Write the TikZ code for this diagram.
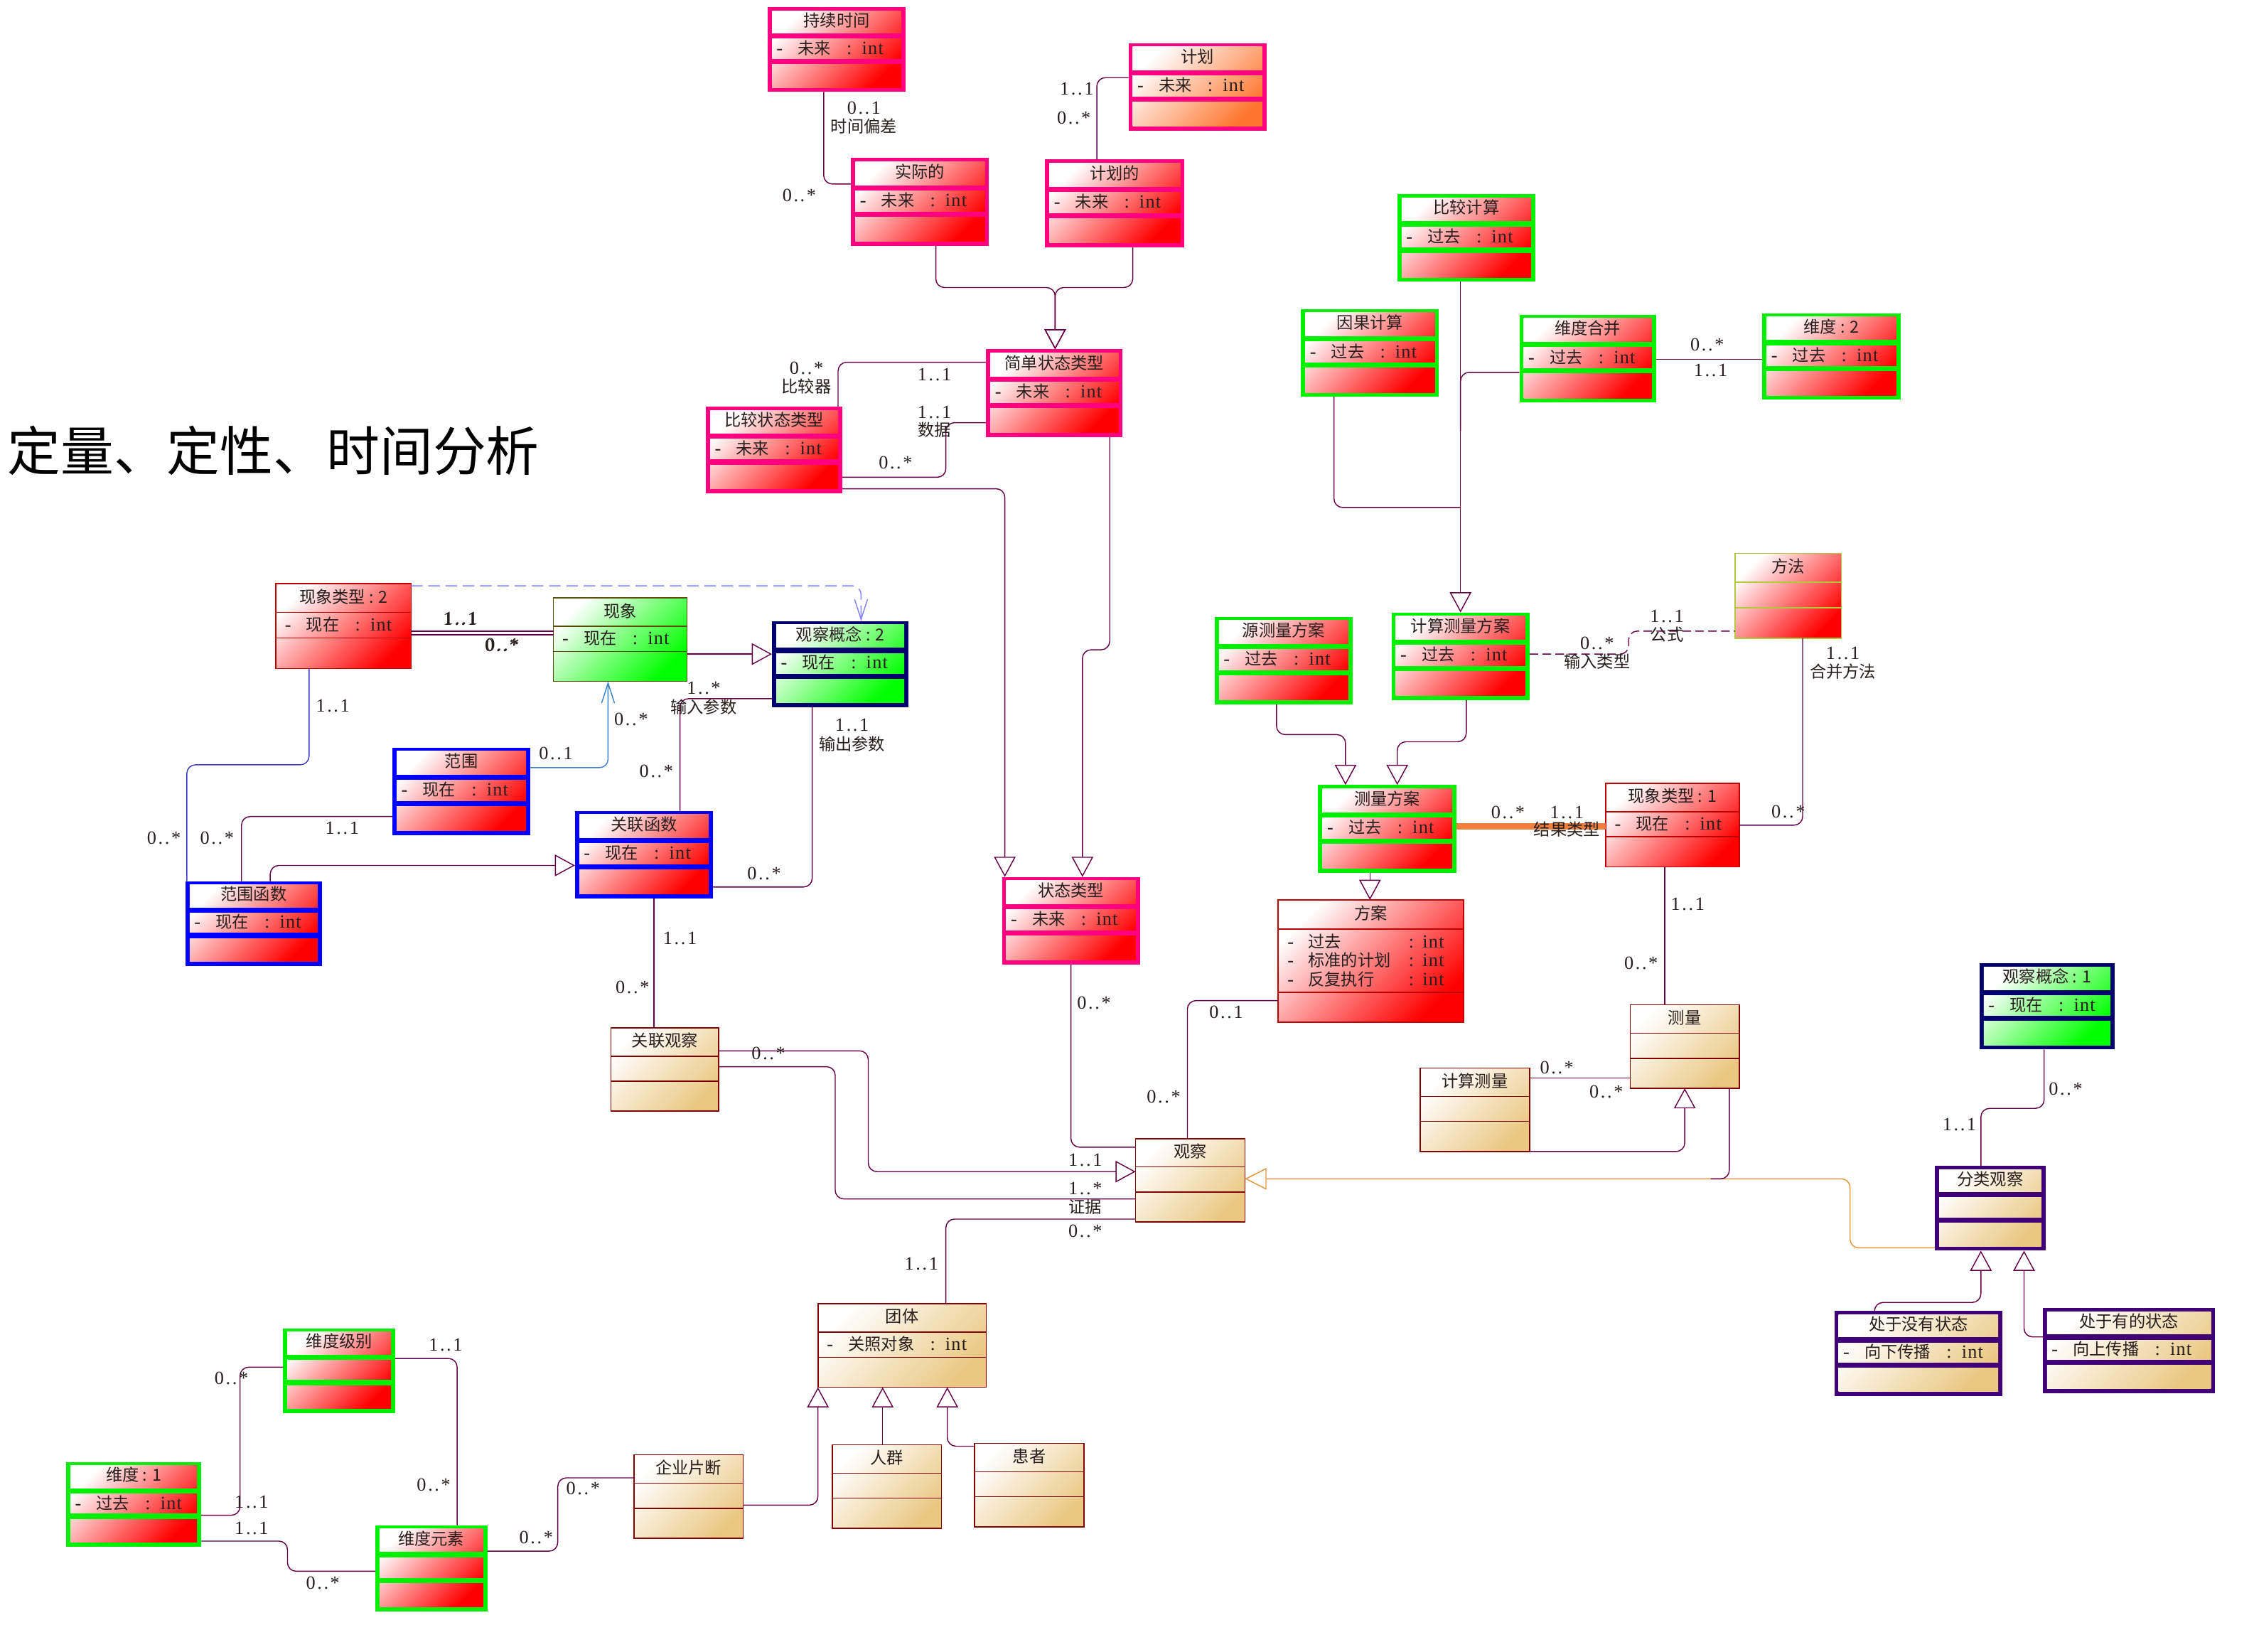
\documentclass[tikz,border=0pt]{standalone}
\usepackage{fontspec}
\setmainfont{Liberation Serif}
\newfontfamily\zh{Noto Sans CJK SC}
\usetikzlibrary{arrows.meta,calc}
\definecolor{lnc}{RGB}{100,0,70}
\definecolor{pinkb}{RGB}{255,0,128}
\definecolor{grnb}{RGB}{0,240,0}
\definecolor{bluB}{RGB}{0,0,255}
\definecolor{navyB}{RGB}{0,0,110}
\definecolor{purpB}{RGB}{64,0,120}
\definecolor{tanF}{RGB}{234,200,130}
\definecolor{marB}{RGB}{128,0,0}
\definecolor{orL}{RGB}{240,128,64}
\definecolor{orG}{RGB}{225,150,60}
\definecolor{planF}{RGB}{255,120,50}
\definecolor{grnF}{RGB}{0,255,0}
\definecolor{oliveB}{RGB}{90,80,0}
\definecolor{methB}{RGB}{180,200,60}
\definecolor{dashB}{RGB}{130,130,255}
\definecolor{stB}{RGB}{60,130,200}
\definecolor{dkB}{RGB}{60,60,200}
\definecolor{redB}{RGB}{190,0,0}
\definecolor{txt}{RGB}{40,30,30}
\tikzset{
  conn/.style={draw=lnc,line width=0.7pt,rounded corners=6pt},
  gen/.style={-{Triangle[open,length=14pt,width=15pt]}},
  vee/.style={-{Straight Barb[length=14pt,width=9pt]}},
  boxn/.style={inner sep=0pt,outer sep=0pt,draw=none},
  ttl/.style={inner sep=0pt,text=txt,font=\zh\fontsize{11.5}{13}\selectfont},
  atrs/.style={inner sep=0pt,anchor=west,text=txt,font=\fontsize{13}{14}\selectfont},
  lab/.style={inner sep=0pt,text=txt,font=\fontsize{13}{14}\selectfont},
  zlab/.style={inner sep=0pt,text=txt,font=\zh\fontsize{11.5}{13}\selectfont},
}
\newcommand{\mul}[2]{#1\kern1.3pt.\kern1.3pt.\kern1.3pt#2}
\newcommand{\atr}[1]{-\hspace{10.5pt}{\zh\fontsize{11.5}{13}\selectfont #1}\hspace{11pt}:\hspace{7pt}i\kern0.6pt n\kern0.6pt t}
\newcommand{\atrw}[1]{-\hspace{10pt}\makebox[70pt][l]{\zh\fontsize{11.5}{13}\selectfont #1}:\hspace{6pt}i\kern0.6pt n\kern0.6pt t}
\newcommand{\thickbox}[9]{%
  \pgfmathsetmacro\myA{#5+0.34*(#7-#5)}%
  \pgfmathsetmacro\myB{#5+0.64*(#7-#5)}%
  \fill[#2] (#4,#5) rectangle (#6,#7);
  \shade[top color=white,bottom color=#3,shading angle=45] ({#4+3},{#5+2.5}) rectangle ({#6-3},{#7-3});
  \fill[#2] (#4,{\myA-1.8}) rectangle (#6,{\myA+1.8});
  \fill[#2] (#4,{\myB-1.8}) rectangle (#6,{\myB+1.8});
  \node[boxn,minimum width={(#6-#4)*1pt},minimum height={(#7-#5)*1pt}] (#1) at ({(#4+#6)/2},{(#5+#7)/2}) {};
  \node[ttl] (#1-t) at ({(#4+#6)/2},{(#5+\myA)/2-1}) {#8};
  \node[atrs] (#1-a) at ({#4+6},{(\myA+\myB)/2-0.5}) {#9};
}
\newcommand{\thinbox}[9]{%
  \pgfmathsetmacro\myA{#5+0.34*(#7-#5)}%
  \pgfmathsetmacro\myB{#5+0.64*(#7-#5)}%
  \shade[top color=white,bottom color=#3,shading angle=45] (#4,#5) rectangle (#6,#7);
  \draw[#2,line width=0.8pt] (#4,\myA) -- (#6,\myA) (#4,\myB) -- (#6,\myB);
  \draw[#2,line width=0.8pt] (#4,#5) rectangle (#6,#7);
  \node[boxn,minimum width={(#6-#4)*1pt},minimum height={(#7-#5)*1pt}] (#1) at ({(#4+#6)/2},{(#5+#7)/2}) {};
  \node[ttl] (#1-t) at ({(#4+#6)/2},{(#5+\myA)/2-1}) {#8};
  \node[atrs] (#1-a) at ({#4+6},{(\myA+\myB)/2-0.5}) {#9};
}
\begin{document}
\begin{tikzpicture}[x=1pt,y=-1pt]
\useasboundingbox (0,0) rectangle (1568,1149);
\fill[white] (0,0) rectangle (1568,1149);

% title
\node[inner sep=0pt,anchor=west,font=\zh\fontsize{37}{40}\selectfont] (title) at (5,313.5) {定量、定性、时间分析};

% ---------- boxes ----------
\thickbox{dur}{pinkb}{red}{534}{5}{630}{64}{持续时间}{\atr{未来}}
\thickbox{plan}{pinkb}{planF}{785}{30}{881}{91}{计划}{\atr{未来}}
\thickbox{act}{pinkb}{red}{592}{110}{688}{171}{实际的}{\atr{未来}}
\thickbox{pld}{pinkb}{red}{727}{111}{824}{172}{计划的}{\atr{未来}}
\thickbox{simp}{pinkb}{red}{686}{243}{781}{304}{简单状态类型}{\atr{未来}}
\thickbox{cmp}{pinkb}{red}{491}{283}{586}{343}{比较状态类型}{\atr{未来}}
\thickbox{st}{pinkb}{red}{697}{610}{793}{671}{状态类型}{\atr{未来}}
\thinbox{pt2}{redB}{red}{192}{406}{286}{465}{现象类型 : 2}{\atr{现在}}
\thinbox{ph}{oliveB}{grnF}{385}{416}{478}{474}{现象}{\atr{现在}}
\thickbox{oc2}{navyB}{grnF}{537}{432}{632}{492}{观察概念 : 2}{\atr{现在}}
\thickbox{rng}{bluB}{red}{273}{520}{369}{581}{范围}{\atr{现在}}
\thickbox{rf}{bluB}{red}{400}{564}{496}{625}{关联函数}{\atr{现在}}
\thickbox{rgf}{bluB}{red}{129}{613}{224}{672}{范围函数}{\atr{现在}}
\thinbox{ro}{marB}{tanF}{425}{715}{500}{773}{关联观察}{}
\thinbox{obs}{marB}{tanF}{790}{792}{866}{850}{观察}{}
\thinbox{grp}{marB}{tanF}{569}{907}{686}{965}{团体}{\atr{关照对象}}
\thinbox{crowd}{marB}{tanF}{579}{1005}{655}{1063}{人群}{}
\thinbox{pat}{marB}{tanF}{678}{1004}{754}{1062}{患者}{}
\thinbox{ent}{marB}{tanF}{441}{1012}{517}{1070}{企业片断}{}
\thickbox{dlv}{grnb}{red}{197}{924}{275}{983}{维度级别}{}
\thickbox{d1}{grnb}{red}{46}{1017}{140}{1076}{维度 : 1}{\atr{过去}}
\thickbox{del}{grnb}{red}{261}{1061}{339}{1121}{维度元素}{}
\thickbox{cc}{grnb}{red}{972}{135}{1068}{196}{比较计算}{\atr{过去}}
\thickbox{cause}{grnb}{red}{905}{215}{1001}{276}{因果计算}{\atr{过去}}
\thickbox{dm}{grnb}{red}{1057}{219}{1152}{280}{维度合并}{\atr{过去}}
\thickbox{d2}{grnb}{red}{1226}{218}{1322}{278}{维度 : 2}{\atr{过去}}
\thinbox{meth}{methB}{red}{1207}{385}{1281}{444}{方法}{}
\thickbox{smp}{grnb}{red}{845}{429}{941}{490}{源测量方案}{\atr{过去}}
\thickbox{cmp2}{grnb}{red}{968}{426}{1064}{487}{计算测量方案}{\atr{过去}}
\thickbox{mp}{grnb}{red}{917}{546}{1013}{607}{测量方案}{\atr{过去}}
\thinbox{pt1}{redB}{red}{1117}{545}{1210}{603}{现象类型 : 1}{\atr{现在}}
\thinbox{meas}{marB}{tanF}{1134}{699}{1210}{757}{测量}{}
\thinbox{cm}{marB}{tanF}{988}{743}{1064}{801}{计算测量}{}
\thickbox{oc1}{navyB}{grnF}{1377}{670}{1471}{730}{观察概念 : 1}{\atr{现在}}
\thickbox{co}{purpB}{tanF}{1346}{811}{1423}{870}{分类观察}{}
\thickbox{dn}{purpB}{tanF}{1276}{912}{1393}{971}{处于没有状态}{\atr{向下传播}}
\thickbox{upb}{purpB}{tanF}{1421}{910}{1541}{969}{处于有的状态}{\atr{向上传播}}

% 方案 (three attributes)
\shade[top color=white,bottom color=red,shading angle=45] (889,626) rectangle (1018,711);
\draw[redB,line width=0.8pt] (889,646.4) -- (1018,646.4) (889,690.4) -- (1018,690.4);
\draw[redB,line width=0.8pt] (889,626) rectangle (1018,711);
\node[boxn,minimum width=129pt,minimum height=85pt] (sch) at (953.5,668.5) {};
\node[ttl] (sch-t) at (953.5,635.2) {方案};
\node[atrs] (sch-a1) at (895.5,655) {\atrw{过去}};
\node[atrs] (sch-a2) at (895.5,668) {\atrw{标准的计划}};
\node[atrs] (sch-a3) at (895.5,681) {\atrw{反复执行}};

% free-end junctions
\coordinate (j1) at (1016,300);
\coordinate (j2) at (1016,353);
\coordinate (j3) at (1190,820);

% ---------- connectors ----------
\draw[conn] (dur.south -| 573,0) |- (act.west |- 0,128);
\draw[conn] (plan.west |- 0,54) -| (pld.north -| 763,0);
\draw[conn,gen] (act.south -| 651,0) |- (734,200) -- (simp.north -| 734,0);
\draw[conn,gen] (pld.south -| 788,0) |- (734,200) -- (simp.north -| 734,0);
\draw[conn] (simp.west |- 0,252) -| (cmp.north -| 583,0);
\draw[conn] (cmp.east |- 0,332) -| (658,294) -- (simp.west |- 0,294);
\draw[conn,gen] (cmp.east |- 0,340) -| (st.north -| 699,0);
\draw[conn,gen] (simp.south -| 772,0) |- (753,452) -- (st.north -| 753,0);
\draw[conn] (st.south -| 745,0) |- (obs.west |- 0,798);
\draw[conn] (sch.west |- 0,696) -| (obs.north -| 826,0);
\draw[conn,gen] (ro.east |- 0,731) -| (604,815) -- (obs.west |- 0,815);
\draw[conn] (ro.east |- 0,742) -| (581,834) -- (obs.west |- 0,834);
\draw[conn] (obs.west |- 0,848) -| (grp.north -| 658,0);
\draw[conn] (rf.south -| 455,0) -- (ro.north -| 455,0);
\draw[conn,gen] (ent.east |- 0,1047) -| (grp.south -| 569,0);
\draw[conn,gen] (crowd.north -| 614,0) -- (grp.south -| 614,0);
\draw[conn,gen] (pat.west |- 0,1006) -| (grp.south -| 659,0);
\draw[conn] (d1.east |- 0,1054) -| (167,951) -- (dlv.west |- 0,951);
\draw[conn] (d1.east |- 0,1072) -| (200,1093) -- (del.west |- 0,1093);
\draw[conn] (dlv.east |- 0,945) -| (del.north -| 318,0);
\draw[conn] (del.east |- 0,1079) -| (388,1028) -- (ent.west |- 0,1028);
\draw[conn] (pt2.east |- 0,439) -- (ph.west |- 0,439);
\draw[conn] (pt2.east |- 0,441.6) -- (ph.west |- 0,441.6);
\draw[conn,draw=dashB,dash pattern=on 8pt off 4pt,vee] (pt2.east |- 0,407.5) -| (oc2.north -| 599,0);
\draw[conn,gen] (ph.east |- 0,455) -- (oc2.west |- 0,455);
\draw[conn,draw=dkB] (pt2.south -| 215,0) |- (130,532) -- (rgf.north -| 130,0);
\draw[conn] (rng.west |- 0,568) -| (rgf.north -| 168,0);
\draw[conn,draw=stB,vee] (rng.east |- 0,534) -| (ph.south -| 423,0);
\draw[conn,gen] (rgf.north -| 188,0) |- (rf.west |- 0,602);
\draw[conn] (oc2.west |- 0,486) -| (rf.north -| 473,0);
\draw[conn] (oc2.south -| 565,0) |- (rf.east |- 0,617);
\draw[conn,gen] (cc.south -| 1016,0) -- (cmp2.north -| 1016,0);
\draw[conn] (dm.west |- 0,259) -| (j1);
\draw[conn] (cause.south -| 928,0) |- (j2);
\draw[conn] (dm.east |- 0,250) -- (d2.west |- 0,250);
\draw[conn,gen] (smp.south -| 888,0) |- (936,511) -- (mp.north -| 936,0);
\draw[conn,gen] (cmp2.south -| 1020,0) |- (972,516) -- (mp.north -| 972,0);
\draw[conn,gen] (mp.south -| 953,0) -- (sch.north -| 953,0);
\draw[draw=orL,line width=4.5pt] (mp.east |- 0,575) -- (pt1.west |- 0,575);
\draw[conn,dash pattern=on 6pt off 3pt] (cmp2.east |- 0,455) -| (1133,439) -- (meth.west |- 0,439);
\draw[conn] (meth.south -| 1254,0) |- (pt1.east |- 0,574);
\draw[conn] (pt1.south -| 1158,0) -- (meas.north -| 1158,0);
\draw[conn] (cm.east |- 0,750) -- (meas.west |- 0,750);
\draw[conn,gen] (cm.east |- 0,801) -| (meas.south -| 1172,0);
\draw[conn,draw=orG,-{Triangle[open,length=15pt,width=15pt]}] (co.west |- 0,868) -| (1287,820) -- (obs.east |- 0,820);
\draw[conn] (meas.south -| 1203,0) |- (j3);
\draw[conn] (oc1.south -| 1422,0) |- (1378,771) -- (co.north -| 1378,0);
\draw[conn,gen] (dn.north -| 1304,0) |- (1378,906) -- (co.south -| 1378,0);
\draw[conn,gen] (upb.west |- 0,930) -| (co.south -| 1408,0);

% ---------- labels ----------
\node[lab] (m1) at (601,75) {\mul{0}{1}};
\node[zlab] (m2) at (601,88) {时间偏差};
\node[lab] (m3) at (556,136) {\mul{0}{*}};
\node[lab] (m4) at (749,62) {\mul{1}{1}};
\node[lab] (m5) at (747,82) {\mul{0}{*}};
\node[lab] (m6) at (561,256) {\mul{0}{*}};
\node[zlab] (m7) at (561,268.6) {比较器};
\node[lab] (m8) at (650,260.5) {\mul{1}{1}};
\node[lab] (m9) at (650,287) {\mul{1}{1}};
\node[zlab] (m10) at (650,299) {数据};
\node[lab] (m11) at (623,322) {\mul{0}{*}};
\node[lab] (m12) at (761,697.7) {\mul{0}{*}};
\node[lab] (m13) at (853,704) {\mul{0}{1}};
\node[lab] (m14) at (809.5,763) {\mul{0}{*}};
\node[lab] (m15) at (534.6,733) {\mul{0}{*}};
\node[lab] (m16) at (755,807) {\mul{1}{1}};
\node[lab] (m17) at (755,827) {\mul{1}{*}};
\node[zlab] (m18) at (755,839.6) {证据};
\node[lab] (m19) at (755,856.5) {\mul{0}{*}};
\node[lab] (m20) at (641,879) {\mul{1}{1}};
\node[lab] (m21) at (473,652.6) {\mul{1}{1}};
\node[lab] (m22) at (440,687) {\mul{0}{*}};
\node[lab] (m23) at (161,959) {\mul{0}{*}};
\node[lab] (m24) at (175,1045) {\mul{1}{1}};
\node[lab] (m25) at (175,1063) {\mul{1}{1}};
\node[lab] (m26) at (224.6,1101) {\mul{0}{*}};
\node[lab] (m27) at (310,935.5) {\mul{1}{1}};
\node[lab] (m28) at (301.7,1033) {\mul{0}{*}};
\node[lab] (m29) at (373,1069.7) {\mul{0}{*}};
\node[lab] (m30) at (405.6,1035.6) {\mul{0}{*}};
\node[lab] (m31) at (320,430.7) {\mul{1}{1}};
\node[lab] (m32) at (320.6,430.4) {\mul{1}{1}};
\node[lab] (m33) at (349,449) {\mul{0}{*}};
\node[lab] (m34) at (349.6,448.7) {\mul{0}{*}};
\node[lab] (m35) at (231.5,491) {\mul{1}{1}};
\node[lab] (m36) at (114,583) {\mul{0}{*}};
\node[lab] (m37) at (238,576) {\mul{1}{1}};
\node[lab] (m38) at (151,583) {\mul{0}{*}};
\node[lab] (m39) at (386.7,524) {\mul{0}{1}};
\node[lab] (m40) at (439,500.5) {\mul{0}{*}};
\node[lab] (m41) at (489.5,478.7) {\mul{1}{*}};
\node[zlab] (m42) at (489.5,491.7) {输入参数};
\node[lab] (m43) at (456.6,536.6) {\mul{0}{*}};
\node[lab] (m44) at (592.7,504.4) {\mul{1}{1}};
\node[zlab] (m45) at (592.7,517.3) {输出参数};
\node[lab] (m46) at (531.6,607.5) {\mul{0}{*}};
\node[lab] (m47) at (1187.6,240) {\mul{0}{*}};
\node[lab] (m48) at (1190,257.7) {\mul{1}{1}};
\node[lab] (m49) at (1049,565) {\mul{0}{*}};
\node[lab] (m50) at (1090,565) {\mul{1}{1}};
\node[zlab] (m51) at (1090,577) {结果类型};
\node[lab] (m52) at (1111,447.5) {\mul{0}{*}};
\node[zlab] (m53) at (1111,460) {输入类型};
\node[lab] (m54) at (1159.6,428.8) {\mul{1}{1}};
\node[zlab] (m55) at (1159.6,441.4) {公式};
\node[lab] (m56) at (1282,454.5) {\mul{1}{1}};
\node[zlab] (m57) at (1282,467) {合并方法};
\node[lab] (m58) at (1244,564.6) {\mul{0}{*}};
\node[lab] (m59) at (1174,629) {\mul{1}{1}};
\node[lab] (m60) at (1141.6,670) {\mul{0}{*}};
\node[lab] (m61) at (1083,742.6) {\mul{0}{*}};
\node[lab] (m62) at (1117.4,759.5) {\mul{0}{*}};
\node[lab] (m63) at (1437,757.6) {\mul{0}{*}};
\node[lab] (m64) at (1363,782.5) {\mul{1}{1}};
\end{tikzpicture}
\end{document}
